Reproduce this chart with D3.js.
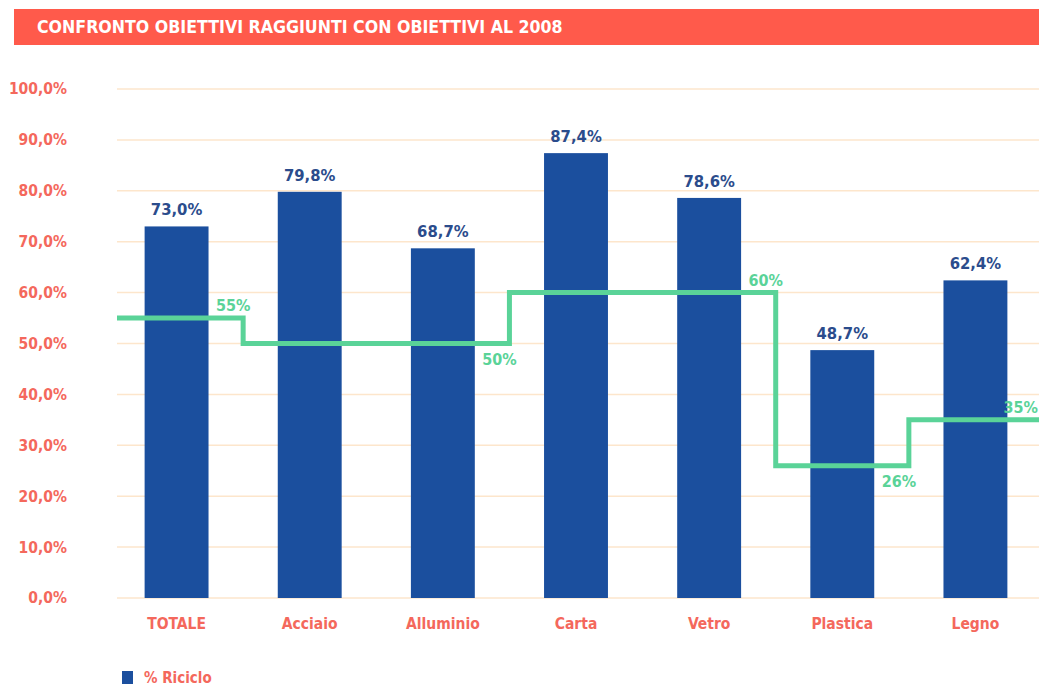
<!DOCTYPE html>
<html>
<head>
    <meta charset="utf-8">
    <title>Confronto obiettivi</title>
    <script src="https://d3js.org/d3.v7.min.js"></script>
</head>
<style>
    body {
        margin: 0;
        background: #fff;
    }

    text {
        font-family: "Liberation Sans Narrow", "DejaVu Sans Condensed", Lato, sans-serif;
        font-weight: bold;
    }

    .grid line {
        stroke: #fde6cc;
        stroke-width: 1.5px;
    }

    .axis text {
        fill: #f4685c;
        font-size: 15.5px;
    }
</style>
<body>
    <svg id="chart"></svg>
    <script>
        // categorie e valori
        var categories = ["TOTALE", "Acciaio", "Alluminio", "Carta", "Vetro", "Plastica", "Legno"];
        var riciclo = [73.0, 79.8, 68.7, 87.4, 78.6, 48.7, 62.4];
        var obiettivi = [55, 50, 50, 60, 60, 26, 35];
        var yTicks = [0, 10, 20, 30, 40, 50, 60, 70, 80, 90, 100];

        var W = 1039, H = 686;
        var margin = { top: 89, right: -3, bottom: 88, left: 110 };
        var width = W - margin.left - margin.right,
            height = H - margin.top - margin.bottom;

        var it = d3.formatLocale({ decimal: ",", thousands: ".", grouping: [3], currency: ["€", ""] });
        var fmt1 = it.format(".1f");

        var svg = d3.select("#chart")
            .attr("width", W)
            .attr("height", H);

        // barra del titolo
        svg.append("rect")
            .attr("x", 14).attr("y", 9)
            .attr("width", W - 14).attr("height", 36)
            .attr("fill", "#ff5a4b");
        svg.append("text")
            .attr("x", 37).attr("y", 33)
            .attr("fill", "#fff")
            .style("font-size", "17.6px")
            .text("CONFRONTO OBIETTIVI RAGGIUNTI CON OBIETTIVI AL 2008");

        var g = svg.append("g")
            .attr("transform", "translate(" + margin.left + "," + margin.top + ")");

        var x = d3.scaleBand()
            .domain(categories)
            .range([0, width])
            .paddingInner(0.52)
            .paddingOuter(0.26);

        var y = d3.scaleLinear()
            .domain([0, 100])
            .range([height, 0]);

        // griglia
        g.append("g")
            .attr("class", "grid")
            .selectAll("line")
            .data(yTicks)
            .enter()
            .append("line")
            .attr("x1", 7).attr("x2", width)
            .attr("y1", function(d) { return y(d); })
            .attr("y2", function(d) { return y(d); });

        // asse Y
        var yAxis = g.append("g")
            .attr("class", "axis")
            .attr("transform", "translate(-40,0)")
            .call(d3.axisLeft(y).tickValues(yTicks).tickSize(0).tickFormat(function(d) { return fmt1(d) + "%"; }));
        yAxis.select(".domain").remove();

        // asse X
        var xAxis = g.append("g")
            .attr("class", "axis")
            .attr("transform", "translate(0," + height + ")")
            .call(d3.axisBottom(x).tickSize(0).tickPadding(20));
        xAxis.select(".domain").remove();

        // barre
        var data = categories.map(function(c, i) {
            return { cat: c, val: riciclo[i], obj: obiettivi[i] };
        });

        g.selectAll(".bar")
            .data(data)
            .enter()
            .append("rect")
            .attr("class", "bar")
            .attr("x", function(d) { return x(d.cat); })
            .attr("y", function(d) { return y(d.val); })
            .attr("width", x.bandwidth())
            .attr("height", function(d) { return height - y(d.val); })
            .attr("fill", "#1b4f9e");

        g.selectAll(".val")
            .data(data)
            .enter()
            .append("text")
            .attr("x", function(d) { return x(d.cat) + x.bandwidth() / 2; })
            .attr("y", function(d) { return y(d.val) - 11; })
            .attr("text-anchor", "middle")
            .attr("fill", "#2b4c8c")
            .style("font-size", "16.5px")
            .text(function(d) { return fmt1(d.val) + "%"; });

        // linea a gradini degli obiettivi
        var step = x.step();
        var pts = data.map(function(d) {
            return [x(d.cat) + x.bandwidth() / 2 - step / 2, d.obj];
        });
        pts[0][0] = 7;
        pts.push([width, obiettivi[obiettivi.length - 1]]);

        var line = d3.line()
            .x(function(d) { return d[0]; })
            .y(function(d) { return y(d[1]); })
            .curve(d3.curveStepAfter);

        g.append("path")
            .datum(pts)
            .attr("fill", "none")
            .attr("stroke", "#5ad398")
            .attr("stroke-width", 5)
            .attr("d", line);

        // etichette obiettivi: alla fine di ogni tratto
        var labels = [];
        data.forEach(function(d, i) {
            var next = data[i + 1];
            if (!next || next.obj !== d.obj) {
                var xe = next ? x(next.cat) + x.bandwidth() / 2 - step / 2 : width;
                var above = !next || next.obj < d.obj;
                labels.push({ x: next ? xe - 10 : xe - 4, v: d.obj, above: above, last: !next });
            }
        });

        g.selectAll(".obj")
            .data(labels)
            .enter()
            .append("text")
            .attr("x", function(d) { return d.x; })
            .attr("y", function(d) { return y(d.v) + (d.above ? -7 : 21); })
            .attr("text-anchor", function(d) { return d.last ? "end" : "middle"; })
            .attr("fill", "#5ad398")
            .style("font-size", "16px")
            .text(function(d) { return d.v + "%"; });

        // legenda
        svg.append("rect")
            .attr("x", 122).attr("y", 671)
            .attr("width", 11).attr("height", 13)
            .attr("fill", "#1b4f9e");
        svg.append("text")
            .attr("x", 144).attr("y", 683)
            .attr("fill", "#f4685c")
            .style("font-size", "15px")
            .text("% Riciclo");
    </script>
</body>
</html>
